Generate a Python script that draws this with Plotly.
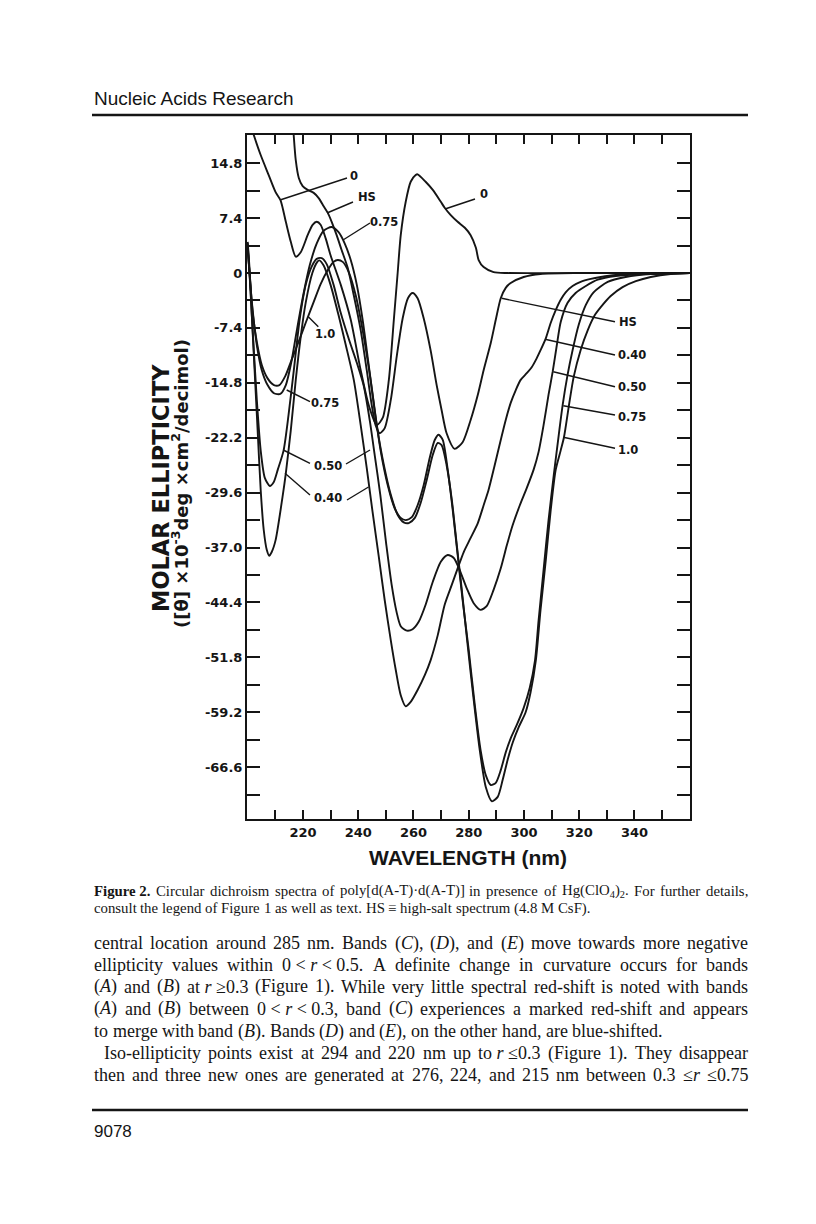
import plotly.graph_objects as go

# ---------------- data (wavelength nm, molar ellipticity x10^-3) ----------------
wl_r0 = [201.2, 202.2, 204.7, 207.6, 210.1, 211.9, 213.8, 215.6, 217.4, 219.2, 221.7, 223.5, 225.0, 226.4,
         228.2, 230.0, 233.7, 237.3, 240.9, 243.8, 246.7, 248.9, 251.1, 252.9, 254.3, 255.4, 257.2, 259.0,
         260.8, 261.5, 264.4, 267.0, 269.9, 271.3, 273.5, 276.0, 278.6, 280.7, 282.6, 283.6, 285.4, 289.0,
         294.0, 320.0, 360.4]
cd_r0 = [19.8, 18.6, 15.9, 13.2, 10.9, 9.8, 6.9, 4.2, 2.2, 2.8, 5.1, 6.5, 6.9, 6.5,
         4.7, 2.4, -1.6, -6.3, -13.1, -17.8, -20.5, -19.5, -14.4, -6.3, 0.1, 5.1, 9.6, 12.3,
         13.2, 13.3, 12.3, 11.2, 9.6, 8.8, 7.8, 6.9, 6.1, 5.1, 3.4, 1.75, 0.8, 0.13,
         0.0, 0.0, 0.0]

wl_hs = [216.3, 216.65, 217.4, 218.5, 219.9, 221.7, 223.9, 225.7, 227.5, 229.0, 230.4, 232.2, 234.0, 236.2,
         238.4, 240.9, 243.1, 244.9, 246.3, 247.8, 249.6, 251.8, 254.0, 256.1, 258.0, 259.7, 261.5, 263.7,
         266.2, 268.4, 270.2, 272.0, 274.9, 277.8, 280.7, 283.3, 285.4, 288.0, 289.8, 291.6, 293.4, 295.2,
         299.9, 306.0, 320.0, 360.4]
cd_hs = [20.6, 18.6, 15.2, 12.8, 11.7, 11.2, 10.8, 10.1, 9.0, 8.1, 6.9, 5.1, 3.1, 0.7,
         -3.0, -7.7, -13.1, -17.8, -20.5, -21.6, -20.9, -17.1, -11.1, -6.1, -3.4, -2.7, -3.4, -6.1,
         -10.4, -15.1, -18.5, -21.6, -23.7, -22.8, -19.8, -16.4, -13.1, -9.4, -6.3, -3.4, -2.0, -1.35,
         -0.54, -0.13, 0.0, 0.0]

wl_040 = [200.0, 200.7, 201.4, 202.5, 203.6, 204.7, 205.8, 206.9, 207.8, 208.7, 210.1, 212.6, 213.8, 215.6,
          217.4, 219.2, 221.0, 223.4, 225.2, 225.9, 227.5, 230.0, 232.9, 235.5, 238.4, 240.9, 243.1, 245.2,
          247.4, 249.6, 251.8, 253.6, 255.4, 257.2, 259.0, 261.5, 264.1, 266.2, 268.8, 271.3, 273.9, 276.0,
          278.2, 280.7, 283.3, 285.4, 287.2, 289.4, 291.6, 293.4, 295.2, 297.0, 298.8, 301.0, 302.8, 304.6,
          306.0, 307.9, 309.7, 311.5, 313.3, 315.1, 317.6, 320.5, 324.2, 327.8, 333.2, 342.3, 360.4]
cd_040 = [4.2, 0.4, -5.0, -13.1, -21.2, -29.2, -34.6, -37.3, -38.1, -37.6, -36.0, -30.2, -27.0, -21.2,
          -14.4, -8.6, -4.0, 0.0, 1.5, 1.7, 1.0, -1.6, -5.7, -9.7, -14.4, -20.5, -26.3, -32.2,
          -38.1, -44.1, -49.5, -53.5, -56.9, -58.4, -57.8, -56.2, -54.2, -52.2, -48.8, -44.7, -42.0, -39.8,
          -37.6, -35.7, -33.7, -31.3, -29.2, -25.9, -22.5, -19.8, -17.5, -15.8, -14.4, -13.5, -12.7, -11.5,
          -10.4, -8.8, -6.7, -5.0, -3.6, -2.6, -1.75, -1.2, -0.8, -0.54, -0.27, -0.13, 0.0]

wl_050 = [200.0, 200.7, 201.8, 203.3, 204.7, 206.2, 208.0, 209.4, 210.9, 213.0, 214.8, 216.7, 218.8, 221.0,
          223.2, 225.0, 226.8, 228.6, 231.1, 233.7, 236.6, 239.5, 242.0, 244.2, 246.0, 248.0, 250.2, 252.1,
          253.9, 255.4, 257.6, 259.7, 261.9, 264.4, 267.0, 269.9, 272.4, 274.6, 276.7, 279.3, 281.8, 284.3,
          286.5, 289.0, 291.6, 293.8, 295.9, 298.5, 301.0, 303.5, 305.3, 307.1, 308.9, 310.4, 311.9, 313.3,
          315.8, 318.7, 322.4, 326.7, 333.2, 344.1, 360.4]
cd_050 = [4.0, -0.3, -7.7, -17.1, -23.9, -27.6, -28.7, -28.2, -26.5, -23.9, -19.1, -13.1, -6.3, -1.6,
          0.9, 1.9, 2.0, 1.2, -1.6, -5.4, -8.9, -12.1, -15.2, -19.9, -24.6, -29.9, -36.7, -42.0,
          -45.7, -47.6, -48.2, -48.0, -47.0, -44.7, -41.6, -38.9, -38.0, -38.4, -40.0, -42.5, -44.5, -45.4,
          -44.9, -42.7, -39.8, -36.7, -34.0, -31.3, -29.0, -26.5, -24.1, -20.5, -16.4, -13.3, -9.7, -6.6,
          -4.0, -2.7, -1.75, -0.9, -0.4, -0.13, 0.0]

wl_075 = [200.0, 200.7, 201.8, 203.3, 205.1, 207.2, 209.5, 211.8, 213.8, 215.8, 217.8, 220.1, 222.5, 225.0,
          227.5, 230.4, 232.9, 235.1, 237.3, 239.5, 241.6, 243.8, 246.0, 248.1, 250.7, 253.2, 255.4, 257.2,
          259.4, 261.5, 263.7, 265.9, 267.7, 269.1, 270.6, 272.4, 274.2, 276.0, 277.8, 280.0, 282.2, 284.3,
          286.2, 288.0, 289.8, 291.6, 293.4, 295.2, 297.4, 299.9, 302.1, 304.0, 305.3, 307.1, 308.9, 310.8,
          312.6, 314.0, 315.8, 317.6, 319.8, 322.4, 325.2, 330.3, 336.8, 345.9, 360.4]
cd_075 = [3.6, -0.3, -5.0, -9.7, -13.1, -15.1, -16.2, -16.3, -15.1, -12.0, -7.7, -3.0, 1.1, 4.0,
          5.7, 6.2, 5.5, 4.0, 1.75, -1.6, -6.3, -12.4, -18.5, -23.9, -28.6, -31.7, -33.0, -33.3,
          -32.9, -31.3, -28.6, -24.9, -22.5, -21.8, -22.5, -26.5, -31.9, -38.0, -44.1, -50.8, -58.2, -64.3,
          -67.7, -69.0, -68.7, -67.0, -64.6, -62.7, -60.9, -58.6, -55.9, -52.2, -46.8, -40.0, -33.3, -27.2,
          -21.8, -17.8, -13.7, -10.4, -7.0, -4.3, -2.6, -1.2, -0.54, -0.13, 0.0]

wl_100 = [200.0, 200.8, 201.8, 203.3, 205.1, 207.2, 209.5, 211.5, 213.6, 215.9, 218.3, 221.0, 223.9, 226.4,
          229.0, 231.1, 232.6, 234.4, 236.6, 239.1, 241.6, 244.2, 246.7, 249.3, 251.8, 254.3, 256.5, 258.3,
          260.5, 262.6, 264.8, 267.0, 268.8, 270.2, 272.0, 273.9, 275.7, 277.5, 279.6, 281.8, 284.0, 286.2,
          288.4, 290.5, 292.3, 294.1, 296.0, 298.1, 300.6, 302.4, 304.3, 306.0, 307.9, 309.7, 311.5, 313.3,
          314.5, 316.3, 318.0, 320.5, 323.1, 325.6, 327.8, 331.4, 335.7, 340.5, 345.9, 353.1, 360.4]
cd_100 = [3.2, -0.5, -5.3, -9.3, -12.4, -14.2, -15.1, -15.1, -13.9, -11.7, -9.4, -6.7, -3.9, -1.5,
          0.4, 1.5, 1.75, 1.5, 0.1, -3.0, -7.7, -13.7, -20.5, -25.9, -29.9, -32.6, -33.6, -33.7,
          -33.0, -31.0, -27.9, -24.5, -22.9, -23.2, -25.9, -30.6, -36.7, -42.7, -50.1, -57.5, -64.3, -69.3,
          -71.2, -70.6, -68.3, -65.6, -63.2, -61.2, -59.2, -56.5, -52.2, -45.4, -38.7, -31.9, -26.5, -23.9,
          -22.1, -17.8, -14.0, -10.4, -7.7, -5.7, -4.6, -3.1, -1.9, -1.1, -0.54, -0.13, 0.0]

x_tick_vals = [220, 240, 260, 280, 300, 320, 340]
x_tick_text = ["220", "240", "260", "280", "300", "320", "340"]
x_minor_vals = [210, 230, 250, 270, 290, 310, 330, 350]
y_tick_vals = [14.8, 7.4, 0.0, -7.4, -14.8, -22.2, -29.6, -37.0, -44.4, -51.8, -59.2, -66.6]
y_tick_text = ["14.8", "7.4", "0", "-7.4", "-14.8", "-22.2", "-29.6", "-37.0", "-44.4", "-51.8", "-59.2", "-66.6"]
y_minor_vals = [11.1, 3.7, -3.7, -11.1, -18.5, -25.9, -33.3, -40.7, -48.1, -55.5, -62.9, -70.3]

series = [("0", wl_r0, cd_r0), ("HS", wl_hs, cd_hs), ("0.40", wl_040, cd_040),
          ("0.50", wl_050, cd_050), ("0.75", wl_075, cd_075), ("1.0", wl_100, cd_100)]

# ---------------- page geometry ----------------
W, H = 816, 1224
PL, PR, PT, PB = 247, 690, 135, 819


def xp(px):
    return (px - PL) / (PR - PL)


def yp(py):
    return (PB - py) / (PB - PT)


INK = "#151515"
fig = go.Figure()
for name, wl, cd in series:
    fig.add_trace(go.Scatter(x=wl, y=cd, mode="lines", name=name, showlegend=False, hoverinfo="skip",
                             line=dict(color=INK, width=1.9, shape="spline", smoothing=0.7)))

annotations = []
shapes = []

# curve labels with leader lines (pixel positions on the page)
curve_labels = [("0", 353.5, 175.5), ("HS", 367, 197), ("0.75", 384, 222), ("0", 483.5, 194),
                ("HS", 628, 322), ("0.40", 632, 355), ("0.50", 632, 387), ("0.75", 632, 417), ("1.0", 628, 450),
                ("1.0", 325, 334), ("0.75", 325, 403), ("0.50", 328, 466), ("0.40", 328, 498)]
leaders = [(280, 200, 347, 178), (327, 213, 353, 202), (343, 240, 370, 223), (445, 209, 475, 199),
           (501.7, 298.3, 615, 321.7), (545, 339.3, 615, 355), (553.3, 371.7, 615, 386.7),
           (563.3, 405.7, 615, 415), (563.3, 437.3, 615, 448.3),
           (308.3, 316.7, 318.3, 326.7), (286.7, 390, 310, 401.7), (283.3, 450, 310, 463.3),
           (346, 464, 370, 450), (285, 473.3, 310, 495), (347, 500, 368.5, 487)]
for t, x, y in curve_labels:
    annotations.append(dict(x=xp(x), y=yp(y), xref="paper", yref="paper", text=t, showarrow=False,
                            xanchor="center", yanchor="middle",
                            font=dict(family="DejaVu Sans", size=11.5, color=INK, weight="bold")))
for x0, y0, x1, y1 in leaders:
    shapes.append(dict(type="line", xref="paper", yref="paper", x0=xp(x0), y0=yp(y0), x1=xp(x1), y1=yp(y1),
                       line=dict(color=INK, width=1.4)))

# axis titles
annotations.append(dict(x=xp(468), y=yp(857), xref="paper", yref="paper", text="WAVELENGTH (nm)",
                        showarrow=False, xanchor="center", yanchor="middle",
                        font=dict(family="Liberation Sans", size=21, color=INK, weight="bold")))
annotations.append(dict(x=xp(161), y=yp(488), xref="paper", yref="paper", text="MOLAR ELLIPTICITY",
                        showarrow=False, textangle=-90, xanchor="center", yanchor="middle",
                        font=dict(family="DejaVu Sans", size=22.5, color=INK, weight="bold")))
annotations.append(dict(x=xp(180), y=yp(484), xref="paper", yref="paper",
                        text="([θ] ×10<sup>-3</sup>deg ×cm<sup>2</sup>/decimol)",
                        showarrow=False, textangle=-90, xanchor="center", yanchor="middle",
                        font=dict(family="DejaVu Sans", size=18, color=INK, weight="bold")))

# ---------------- page text ----------------
annotations.append(dict(x=xp(92), y=yp(98), xref="paper", yref="paper", text="Nucleic Acids Research",
                        showarrow=False, xanchor="left", yanchor="middle",
                        font=dict(family="Liberation Sans", size=19, color=INK)))
annotations.append(dict(x=xp(92), y=yp(1131), xref="paper", yref="paper", text="9078",
                        showarrow=False, xanchor="left", yanchor="middle",
                        font=dict(family="Liberation Sans", size=17, color=INK)))
shapes.append(dict(type="line", xref="paper", yref="paper", x0=xp(92), x1=xp(748), y0=yp(115), y1=yp(115),
                   line=dict(color=INK, width=2.5)))
shapes.append(dict(type="line", xref="paper", yref="paper", x0=xp(92), x1=xp(748), y0=yp(1110), y1=yp(1110),
                   line=dict(color=INK, width=2.5)))

TNR = dict(zip("abcdefghijklmnopqrstuvwxyz",
               [444, 500, 444, 500, 444, 333, 500, 500, 278, 278, 500, 278, 778, 500, 500, 500, 500, 333, 389,
                278, 500, 500, 722, 500, 500, 444]))
TNR.update(zip("ABCDEFGHIJKLMNOPQRSTUVWXYZ",
               [722, 667, 667, 722, 611, 556, 722, 722, 333, 389, 722, 611, 889, 722, 722, 556, 722, 667, 556,
                611, 722, 722, 944, 722, 722, 611]))
TNR.update({c: 500 for c in "0123456789"})
TNR.update({" ": 250, "~": 250, ".": 250, ",": 250, "(": 333, ")": 333, "[": 333, "]": 333, "-": 333,
            "<": 564, ">": 564, "≥": 549, "≤": 549, "≡": 549, "·": 250, ":": 278, ";": 278, "/": 278})
TNR_I = {"A": 611, "B": 611, "C": 667, "D": 722, "E": 611, "r": 389}
TNR_B = {"F": 611, "u": 556, "r": 444}
TAGS = {"<i>": ("i", True), "</i>": ("i", False), "<b>": ("b", True), "</b>": ("b", False),
        "<sub>": ("s", True), "</sub>": ("s", False)}


def text_w(s, size):
    i, w = 0, 0.0
    st = {"i": False, "b": False, "s": False}
    while i < len(s):
        hit = None
        for tag in TAGS:
            if s.startswith(tag, i):
                hit = tag
                break
        if hit:
            k, v = TAGS[hit]
            st[k] = v
            i += len(hit)
            continue
        if s.startswith("&lt;", i):
            ch = "<"
            i += 4
        else:
            ch = s[i]
            i += 1
        cw = TNR.get(ch, 500)
        if st["i"] and ch in TNR_I:
            cw = TNR_I[ch]
        if st["b"] and ch in TNR_B:
            cw = TNR_B[ch]
        w += cw * (0.7 if st["s"] else 1.0)
    return w * size / 1000.0


def place_line(text, x0, x1, y, size, justify):
    # words are separated by spaces; "~" keeps pieces together inside one chunk
    words = text.split(" ")
    widths = [text_w(wd, size) for wd in words]
    if justify and len(words) > 1:
        gap = (x1 - x0 - sum(widths)) / (len(words) - 1)
    else:
        gap = 0.25 * size
    x = x0
    for wd, ww in zip(words, widths):
        annotations.append(dict(x=xp(x), y=yp(y), xref="paper", yref="paper", text=wd.replace("~", " "),
                                showarrow=False, xanchor="left", yanchor="middle", borderpad=0,
                                font=dict(family="Liberation Serif", size=size, color=INK)))
        x += ww + gap


caption = [
    ("<b>Figure~2.</b> Circular dichroism spectra of poly[d(A-T)·d(A-T)] in presence of "
     "Hg(ClO<sub>4</sub>)<sub>2</sub>. For further details,", 93, 891, True),
    ("consult the legend of Figure 1 as well as text. HS ≡ high-salt spectrum (4.8 M CsF).", 93, 908, False),
]
for t, x0, y, j in caption:
    place_line(t, x0, 747, y, 14.8, j)

body = [
    ("central location around 285 nm. Bands (<i>C</i>), (<i>D</i>), and (<i>E</i>) move towards more negative",
     93, True),
    ("ellipticity values within 0~&lt;~<i>r</i>~&lt;~0.5. A definite change in curvature occurs for bands", 93, True),
    ("(<i>A</i>) and (<i>B</i>) at~<i>r</i>~≥0.3 (Figure 1). While very little spectral red-shift is noted with bands",
     93, True),
    ("(<i>A</i>) and (<i>B</i>) between 0~&lt;~<i>r</i>~&lt;~0.3, band (<i>C</i>) experiences a marked red-shift and appears",
     93, True),
    ("to merge with band (<i>B</i>). Bands (<i>D</i>) and (<i>E</i>), on the other hand, are blue-shifted.", 93, False),
    ("Iso-ellipticity points exist at 294 and 220 nm up to~<i>r</i>~≤0.3 (Figure 1). They disappear", 103, True),
    ("then and three new ones are generated at 276, 224, and 215 nm between 0.3 ≤<i>r</i> ≤0.75", 93, True),
]
for k, (t, x0, j) in enumerate(body):
    place_line(t, x0, 747, 943 + 22 * k, 18, j)

tick_font = dict(family="DejaVu Sans", size=13, color=INK, weight="bold")
fig.update_xaxes(range=[199.75, 360.1], tickmode="array", tickvals=x_tick_vals, ticktext=x_tick_text,
                 ticks="inside", ticklen=9, tickwidth=2, tickcolor=INK, showline=True, linewidth=2,
                 linecolor=INK, mirror="allticks", showgrid=False, zeroline=False, tickfont=tick_font,
                 minor=dict(tickmode="array", tickvals=x_minor_vals, ticks="inside", ticklen=9, tickwidth=2,
                            tickcolor=INK, showgrid=False),
                 automargin=False, fixedrange=True)
fig.update_yaxes(range=[-73.58, 18.6], tickmode="array", tickvals=y_tick_vals, ticktext=y_tick_text,
                 ticks="inside", ticklen=13, tickwidth=2, tickcolor=INK, showline=True, linewidth=2,
                 linecolor=INK, mirror="allticks", showgrid=False, zeroline=False, tickfont=tick_font,
                 minor=dict(tickmode="array", tickvals=y_minor_vals, ticks="inside", ticklen=13, tickwidth=2,
                            tickcolor=INK, showgrid=False),
                 automargin=False, fixedrange=True)
fig.update_layout(width=W, height=H, margin=dict(l=PL, r=W - PR, t=PT, b=H - PB, pad=0),
                  paper_bgcolor="white", plot_bgcolor="white", showlegend=False,
                  annotations=annotations, shapes=shapes)
fig.write_html("out.html", config={"displayModeBar": False},
               post_script="document.body.style.margin='0';document.body.style.padding='0';")
